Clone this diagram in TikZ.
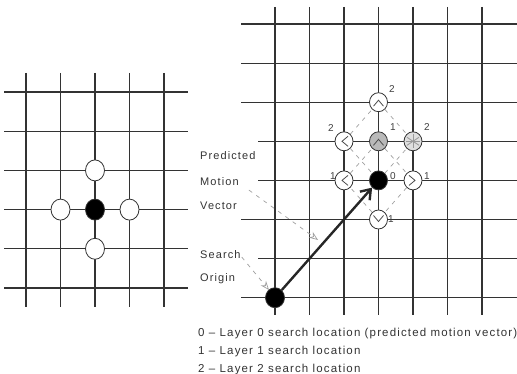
\documentclass[tikz,border=0pt]{standalone}
\usepackage{fontspec}
\newfontfamily\labfont[LetterSpace=10]{Liberation Sans}
\usetikzlibrary{arrows.meta,shapes.geometric}

\begin{document}
\begin{tikzpicture}[
    x=1pt, y=-1pt,
    gridline/.style={draw=black!80, line width=1.1pt},
    spot/.style={draw=black!80, ellipse, inner sep=0pt, minimum width=18pt, minimum height=19pt, fill=white, line width=0.8pt},
    bigspot/.style={spot, minimum width=19pt, minimum height=21pt},
    chev/.style={draw=black!70, line width=0.8pt},
    guide/.style={draw=gray!75, dash pattern=on 4pt off 5pt, line width=0.7pt},
    mv/.style={-{Straight Barb[length=9pt,width=13pt]}, line width=2.4pt, draw=black!85},
    ptr/.style={guide, -{Stealth[open,length=9pt,width=7pt]}},
    num/.style={font=\labfont\fontsize{10}{12}\selectfont, text=black!75, inner sep=0pt},
    lab/.style={font=\labfont\fontsize{11}{13}\selectfont, text=black!80, anchor=base west, inner sep=0pt},
    legend/.style={lab, font=\labfont\fontsize{11.5}{13}\selectfont}
]
    \useasboundingbox (0,0) rectangle (517,374);

    % Left grid
    \foreach \x in {26,60.5,95,129.5,164}
        \draw[gridline] (\x,73) -- (\x,307);
    \foreach \y in {92,131.2,170.4,209.6,248.8,288}
        \draw[gridline] (4,\y) -- (188,\y);

    % Left search points
    \node[bigspot, fill=black] (lc) at (95,209.6) {};
    \node[bigspot] (lu) at (95,170.4) {};
    \node[bigspot] (ll) at (60.5,209.6) {};
    \node[bigspot] (lr) at (129.5,209.6) {};
    \node[bigspot] (ld) at (95,248.8) {};

    % Right grid
    \foreach \x in {275,309.5,344,378.5,413,447.5,482}
        \draw[gridline] (\x,7) -- (\x,315);
    \foreach \y/\s in {24/241,63.1/241,102.2/241,141.3/258,180.4/258,219.5/241,258.6/258,297.7/241}
        \draw[gridline] (\s,\y) -- (517,\y);

    % Layer 0, 1 and 2 search points
    \node[spot, fill=black] (c0) at (378.5,180.4) {};
    \node[spot, fill=gray!55] (u1) at (378.5,141.3) {};
    \node[spot] (a1) at (344,180.4) {};
    \node[spot] (b1) at (413,180.4) {};
    \node[spot] (d1) at (378.5,219.5) {};
    \node[spot] (u2) at (378.5,102.2) {};
    \node[spot] (l2) at (344,141.3) {};
    \node[spot, fill=gray!25] (r2) at (413,141.3) {};

    % Dashed search pattern
    \draw[guide] (a1) -- (u1) -- (b1) -- (d1) -- (a1);
    \draw[guide] (l2) -- (c0) -- (r2);
    \draw[guide] (l2) -- (u2) -- (r2);

    % Chevrons
    \draw[chev] ([shift={(-5,4)}]u2.center) -- ([shift={(0,-2)}]u2.center) -- ([shift={(5,4)}]u2.center);
    \draw[chev] ([shift={(-5,4)}]u1.center) -- ([shift={(0,-2)}]u1.center) -- ([shift={(5,4)}]u1.center);
    \draw[chev] ([shift={(4,-5)}]l2.center) -- ([shift={(-2,0)}]l2.center) -- ([shift={(4,5)}]l2.center);
    \draw[chev] ([shift={(4,-5)}]a1.center) -- ([shift={(-2,0)}]a1.center) -- ([shift={(4,5)}]a1.center);
    \draw[chev] ([shift={(-4,-5)}]b1.center) -- ([shift={(2,0)}]b1.center) -- ([shift={(-4,5)}]b1.center);
    \draw[chev] ([shift={(-5,-4)}]d1.center) -- ([shift={(0,2)}]d1.center) -- ([shift={(5,-4)}]d1.center);
    \draw[chev, draw=gray!80] ([shift={(-6,-4)}]r2.center) -- ([shift={(6,4)}]r2.center);
    \draw[chev, draw=gray!80] ([shift={(-6,4)}]r2.center) -- ([shift={(6,-4)}]r2.center);
    \draw[chev, draw=gray!80] ([shift={(0,-7)}]r2.center) -- ([shift={(0,7)}]r2.center);
    \draw[chev, draw=gray!80] ([shift={(-7,0)}]r2.center) -- ([shift={(7,0)}]r2.center);

    % Layer numbers
    \node[num] (nu2) at (392,89) {2};
    \node[num] (nu1) at (393,127) {1};
    \node[num] (nr2) at (427,127) {2};
    \node[num] (nl2) at (331,128) {2};
    \node[num] (na1) at (333,176) {1};
    \node[num] (nc0) at (393,176) {0};
    \node[num] (nb1) at (427,176) {1};
    \node[num] (nd1) at (391,219) {1};

    % Motion vector
    \node[spot, fill=black, minimum width=19pt, minimum height=20pt] (org) at (275,297.7) {};
    \draw[mv] (org) -- (c0);

    % Labels
    \node[lab] (pred) at (200,160) {Predicted};
    \node[lab] (mot) at (200,186) {Motion};
    \node[lab] (vec) at (200,210) {Vector};
    \node[lab] (srch) at (200,259) {Search};
    \node[lab] (orig) at (200,282) {Origin};

    \coordinate (mvtip) at (318,240);
    \coordinate (orgtip) at (269,290);
    \draw[ptr] ([shift={(10,8)}]mot.east) -- (mvtip);
    \draw[ptr] ([shift={(1,2)}]srch.east) -- (orgtip);

    % Legend
    \node[legend] (leg0) at (198,336) {0 \textendash{} Layer 0 search location (predicted motion vector)};
    \node[legend] (leg1) at (198,354) {1 \textendash{} Layer 1 search location};
    \node[legend] (leg2) at (198,372) {2 \textendash{} Layer 2 search location};
\end{tikzpicture}
\end{document}
